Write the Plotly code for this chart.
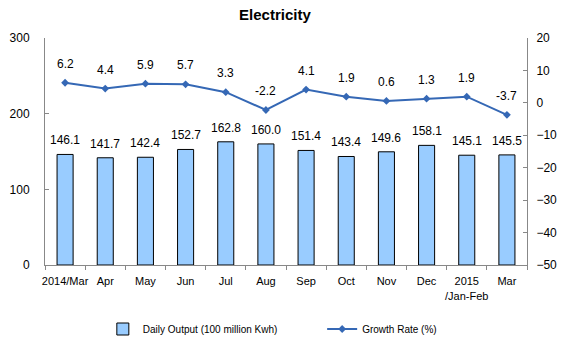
import plotly.graph_objects as go

categories = ["2014/Mar", "Apr", "May", "Jun", "Jul", "Aug", "Sep", "Oct", "Nov", "Dec", "2015<br>/Jan-Feb", "Mar"]
daily_output = [146.1, 141.7, 142.4, 152.7, 162.8, 160.0, 151.4, 143.4, 149.6, 158.1, 145.1, 145.5]
growth_rate = [6.2, 4.4, 5.9, 5.7, 3.3, -2.2, 4.1, 1.9, 0.6, 1.3, 1.9, -3.7]
left_ticks = [0, 100, 200, 300]
right_ticks = [-50, -40, -30, -20, -10, 0, 10, 20]

FONT = "Liberation Sans, Arial, sans-serif"
LINE_COLOR = "#3568B5"
BAR_COLOR = "#99CCFF"

fig = go.Figure()
fig.add_trace(go.Bar(
    x=categories, y=daily_output, name="Daily Output (100 million Kwh)",
    marker=dict(color=BAR_COLOR, line=dict(color="#000000", width=1)),
    yaxis="y", legend="legend",
))
fig.add_trace(go.Scatter(
    x=categories, y=growth_rate, name="Growth Rate (%)",
    mode="lines+markers", yaxis="y2", legend="legend2",
    line=dict(color=LINE_COLOR, width=2),
    marker=dict(symbol="diamond", size=6, color=LINE_COLOR),
))

annotations = []
for c, v in zip(categories, daily_output):
    annotations.append(dict(x=c, y=v, xref="x", yref="y", text=f"{v:.1f}",
                            showarrow=False, yanchor="middle", yshift=14,
                            font=dict(family=FONT, size=12, color="#000")))
for c, v in zip(categories, growth_rate):
    annotations.append(dict(x=c, y=v, xref="x", yref="y2", text=f"{v:.1f}",
                            showarrow=False, yanchor="middle", yshift=19,
                            font=dict(family=FONT, size=12, color="#000")))

legend_common = dict(orientation="h", yanchor="middle", y=-0.282, xanchor="left",
                     font=dict(family=FONT, size=10, color="#000"),
                     bgcolor="rgba(0,0,0,0)", itemwidth=30)

fig.update_layout(
    width=569, height=344,
    margin=dict(l=45, r=42, t=38, b=79, autoexpand=False),
    paper_bgcolor="white", plot_bgcolor="white",
    font=dict(family=FONT, size=12, color="#000"),
    title=dict(text="<b>Electricity</b>", x=0.477, xref="paper", xanchor="center",
               y=0.958, yanchor="middle", font=dict(family=FONT, size=15, color="#000")),
    bargap=0.6,
    showlegend=True,
    legend=dict(x=0.12, **legend_common),
    legend2=dict(x=0.575, **legend_common),
    xaxis=dict(type="category", showline=True, linecolor="#888888", linewidth=1,
               ticks="outside", tickson="boundaries", ticklen=4, tickcolor="#888888",
               showgrid=False, tickangle=0, automargin=False, ticklabelstandoff=6,
               tickfont=dict(family=FONT, size=11), range=[-0.5, 11.5]),
    yaxis=dict(range=[0, 300], tickvals=left_ticks, showline=True, linecolor="#888888",
               linewidth=1, ticks="inside", ticklen=4, tickcolor="#888888",
               showgrid=False, zeroline=False, automargin=False, ticklabelstandoff=12,
               tickfont=dict(family=FONT, size=12)),
    yaxis2=dict(range=[-50, 20], tickvals=right_ticks, overlaying="y", side="right",
                showline=True, linecolor="#888888", linewidth=1, ticks="inside", ticklen=4,
                tickcolor="#888888", showgrid=False, zeroline=False, automargin=False,
                ticklabelstandoff=6, tickfont=dict(family=FONT, size=12)),
    annotations=annotations,
)

fig.write_html("out.html", config={"displayModeBar": False})
